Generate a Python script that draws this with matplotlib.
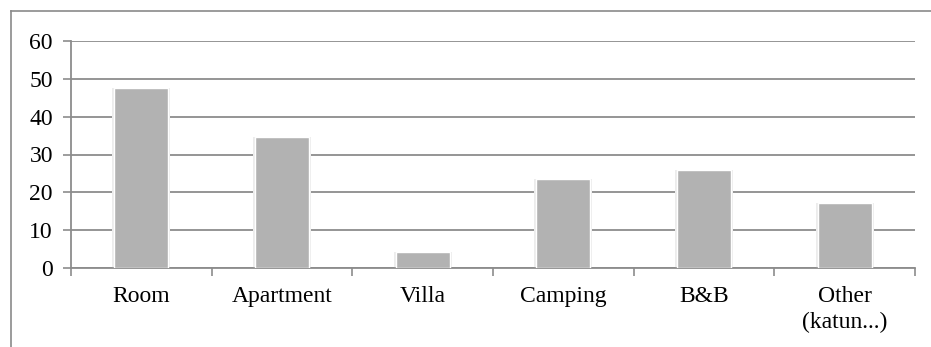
import matplotlib
matplotlib.use("Agg")
import matplotlib.pyplot as plt
from matplotlib.lines import Line2D
import numpy as np

categories = ["Room", "Apartment", "Villa", "Camping", "B&B", "Other\n(katun...)"]
values = [47.6, 34.6, 4.1, 23.6, 25.8, 17.2]
y_ticks = [0, 10, 20, 30, 40, 50, 60]

plt.rcParams['font.family'] = ['Liberation Serif', 'DejaVu Serif']

W, H = 931, 347
fig = plt.figure(figsize=(W / 100, H / 100), dpi=100)
fig.patch.set_facecolor("white")

# outer chart border (left and top visible)
fig.add_artist(Line2D([10.5 / W, 10.5 / W], [0, 1 - 11 / H], color="#8a8a8a", lw=1.2, transform=fig.transFigure))
fig.add_artist(Line2D([10.5 / W, 1], [1 - 11 / H, 1 - 11 / H], color="#8a8a8a", lw=1.2, transform=fig.transFigure))

ax = fig.add_axes([71 / W, 1 - 268 / H, (915 - 71) / W, (268 - 41) / H])
x = np.arange(len(categories))

# soft shadow behind bars
ax.bar(x, values, width=0.41, color="#ececec", zorder=2, linewidth=0)
ax.bar(x, values, width=0.385, color="#b2b2b2", edgecolor="white", linewidth=1.0, zorder=3)

ax.set_xlim(-0.5, len(categories) - 0.5)
ax.set_ylim(0, 60)
ax.set_yticks(y_ticks)
ax.set_yticklabels([str(v) for v in y_ticks])
ax.yaxis.grid(True, color="#8c8c8c", linewidth=1.3, zorder=0)
ax.set_axisbelow(True)

ax.set_xticks(x)
ax.set_xticklabels(categories, linespacing=1.3)
ax.set_xticks(np.arange(-0.5, len(categories), 1.0), minor=True)
ax.tick_params(axis="x", which="major", length=0, pad=13, labelsize=17, colors="black")
ax.tick_params(axis="x", which="minor", length=6, width=1.2, color="#8c8c8c", direction="out")
ax.tick_params(axis="y", length=6, width=1.2, color="#8c8c8c", pad=7, labelsize=17, labelcolor="black")

for s in ["top", "right"]:
    ax.spines[s].set_visible(False)
for s in ["left", "bottom"]:
    ax.spines[s].set_color("#8c8c8c")
    ax.spines[s].set_linewidth(1.3)

fig.savefig("out.png", dpi=100, facecolor="white")
